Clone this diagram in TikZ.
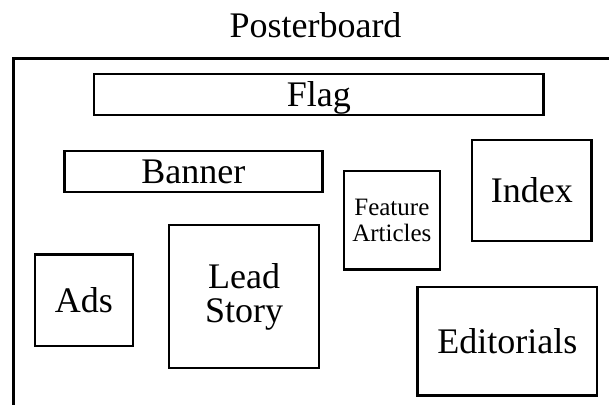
\documentclass[tikz,border=0pt]{standalone}
\usepackage{fontspec}
\setmainfont{Liberation Serif}
\begin{document}
\begin{tikzpicture}[x=1pt,y=-1pt,
  box/.style={draw, line width=2.3pt, inner sep=0pt, align=center,
    font=\fontsize{36}{34}\selectfont},
  onebox/.style={box, text height=24pt, text depth=0pt},
  framestyle/.style={line width=2.6pt}]
\useasboundingbox (0,0) rectangle (609,404);
\begin{scope}
  \clip (0,0) rectangle (609,404);
  \coordinate (fbl) at (13.7,440);
  \coordinate (ftr) at (650,58.3);
  \draw[framestyle] (fbl) |- (ftr);
\end{scope}
\node[anchor=base, inner sep=0pt, font=\fontsize{36}{36}\selectfont] (title) at (315.5,37.5) {Posterboard};
\node[onebox, minimum width=449.4pt, minimum height=40.7pt] (flag) at (318.85,94.5) {Flag};
\node[onebox, minimum width=257.9pt, minimum height=41pt] (banner) at (193.4,171.7) {Banner};
\node[box, font=\fontsize{25}{26}\selectfont, minimum width=96pt, minimum height=98.3pt] (feature) at (391.85,220.3) {Feature\\Articles};
\node[onebox, minimum width=119.2pt, minimum height=100.7pt] (index) at (531.9,190.5) {Index};
\node[onebox, minimum width=98.2pt, minimum height=91.4pt] (ads) at (83.8,300.2) {Ads};
\node[box, minimum width=150.1pt, minimum height=143pt] (lead) at (244.2,296.7) {Lead\\Story};
\node[onebox, minimum width=179.7pt, minimum height=108.7pt] (edit) at (507.3,341.2) {Editorials};
\end{tikzpicture}
\end{document}
